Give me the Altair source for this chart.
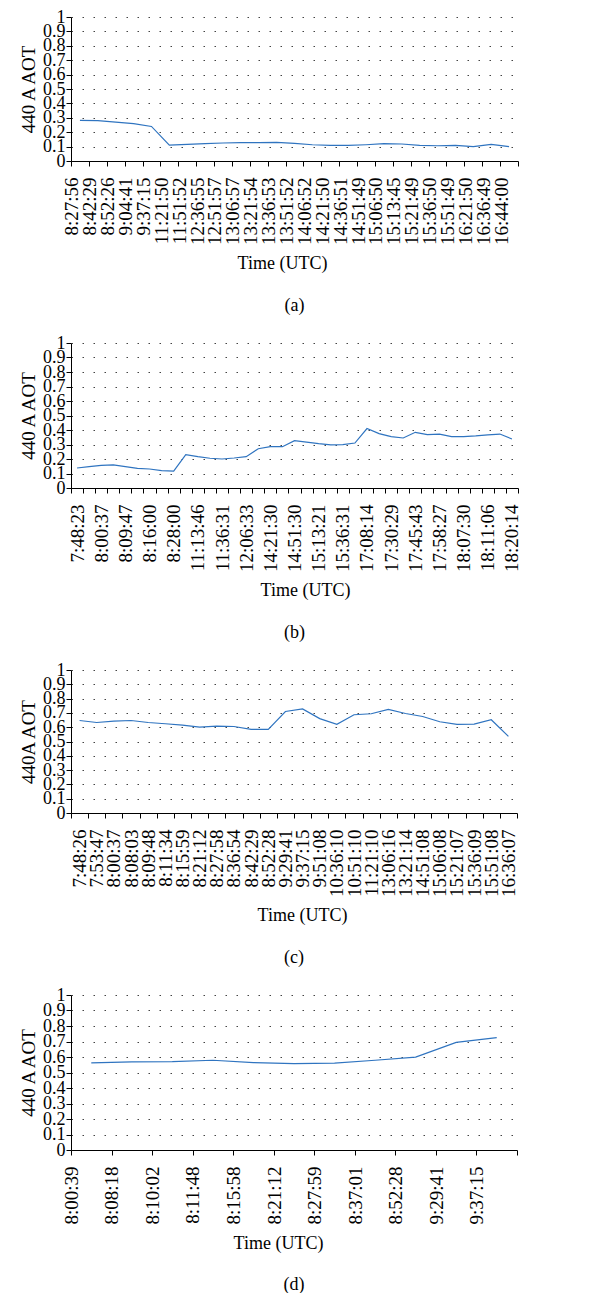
import altair as alt
import pandas as pd

FONT = "Liberation Serif"
LINE_COLOR = "#2f74c0"

# ---------- panel (a) ----------
a_labels = ["8:27:56", "8:42:29", "8:52:26", "9:04:41", "9:37:15", "11:21:50", "11:51:52",
            "12:36:55", "12:51:57", "13:06:57", "13:21:54", "13:36:53", "13:51:52", "14:06:52",
            "14:21:50", "14:36:51", "14:51:49", "15:06:50", "15:13:45", "15:21:49", "15:36:50",
            "15:51:49", "16:21:50", "16:36:49", "16:44:00"]
a_values = [0.282, 0.28, 0.27, 0.26, 0.24, 0.11, 0.115, 0.12, 0.125, 0.127, 0.127, 0.13,
            0.122, 0.113, 0.108, 0.108, 0.113, 0.12, 0.118, 0.108, 0.106, 0.108, 0.10,
            0.115, 0.10]

# ---------- panel (b) ----------
b_labels = ["7:48:23", "8:00:37", "8:09:47", "8:16:00", "8:28:00", "11:13:46", "11:36:31",
            "12:06:33", "14:21:30", "14:51:30", "15:13:21", "15:36:31", "17:08:14", "17:30:29",
            "17:45:43", "17:58:27", "18:07:30", "18:11:06", "18:20:14"]
b_values = [0.138, 0.147, 0.156, 0.159, 0.147, 0.136, 0.131, 0.12, 0.117, 0.23, 0.216,
            0.205, 0.20, 0.207, 0.216, 0.271, 0.285, 0.285, 0.326, 0.317, 0.306, 0.297,
            0.299, 0.31, 0.41, 0.375, 0.354, 0.345, 0.384, 0.368, 0.372, 0.354, 0.354,
            0.359, 0.366, 0.372, 0.338]

# ---------- panel (c) ----------
c_labels = ["7:48:26", "7:53:47", "8:00:37", "8:08:03", "8:09:48", "8:11:34", "8:15:59",
            "8:21:12", "8:27:58", "8:36:54", "8:42:29", "8:52:28", "9:29:41", "9:37:15",
            "9:51:08", "10:36:10", "10:51:10", "11:21:10", "13:06:16", "13:21:14", "14:51:08",
            "15:06:08", "15:21:07", "15:36:09", "15:51:08", "16:36:07"]
c_values = [0.647, 0.633, 0.643, 0.647, 0.633, 0.624, 0.615, 0.60, 0.608, 0.605, 0.585,
            0.585, 0.71, 0.728, 0.66, 0.62, 0.687, 0.694, 0.724, 0.696, 0.675, 0.638,
            0.62, 0.622, 0.652, 0.536]

# ---------- panel (d) ----------
d_labels = ["8:00:39", "8:08:18", "8:10:02", "8:11:48", "8:15:58", "8:21:12", "8:27:59",
            "8:37:01", "8:52:28", "9:29:41", "9:37:15"]
d_values = [0.562, 0.568, 0.57, 0.579, 0.564, 0.557, 0.56, 0.579, 0.599, 0.694, 0.725]

Y_TICKS = [0, 0.1, 0.2, 0.3, 0.4, 0.5, 0.6, 0.7, 0.8, 0.9, 1.0]


def panel(tick_labels, values, ytitle, caption, width, height, label_shift, title_x):
    n = len(values)
    df = pd.DataFrame({"i": list(range(n)), "v": values})
    js = "[" + ",".join("'" + s + "'" for s in tick_labels) + "]"
    x = alt.X(
        "i:O",
        bandPosition=0.5,
        scale=alt.Scale(type="band", paddingInner=0, paddingOuter=0),
        axis=alt.Axis(
            title="Time (UTC)",
            labelExpr=js + "[datum.value] || ''",
            labelAngle=-90,
            labelOverlap=False,
            labelBound=False,
            labelFlush=False,
            labelOffset=label_shift,
            labelPadding=11,
            labelFont=FONT,
            labelFontSize=19,
            labelColor="black",
            tickBand="extent",
            tickSize=5,
            tickColor="black",
            domainColor="black",
            grid=False,
            titleFont=FONT,
            titleFontSize=18,
            titleFontWeight=400,
            titleColor="black",
            titlePadding=10,
            titleX=title_x,
            titleAlign="center",
        ),
    )
    y = alt.Y(
        "v:Q",
        scale=alt.Scale(domain=[0, 1], nice=False, zero=True),
        axis=alt.Axis(
            title=ytitle,
            values=Y_TICKS,
            format=".1~f",
            labelOverlap=False,
            labelFlush=False,
            labelBound=False,
            labelFont=FONT,
            labelFontSize=18,
            labelColor="black",
            labelPadding=1,
            tickSize=5,
            tickColor="black",
            domainColor="black",
            grid=True,
            gridColor="#444444",
            gridDash=[1.5, 9.5],
            gridWidth=1,
            titleFont=FONT,
            titleFontSize=19,
            titleFontWeight=400,
            titleColor="black",
            titlePadding=4,
        ),
    )
    return (
        alt.Chart(df)
        .mark_line(color=LINE_COLOR, strokeWidth=1.2)
        .encode(x=x, y=y)
        .properties(
            width=width,
            height=height,
            title=alt.TitleParams(
                caption,
                orient="bottom",
                anchor="middle",
                font=FONT,
                fontSize=18,
                fontWeight=400,
                color="black",
                offset=24,
            ),
        )
    )


b_full = []
for k in range(len(b_values)):
    b_full.append(b_labels[k // 2] if k % 2 == 0 else "")

pa = panel(a_labels, a_values, "440 A AOT", "(a)", 447, 144, -8, 211)
pb = panel(b_full, b_values, "440 A AOT", "(b)", 447, 145, 0, 234)
pc = panel(c_labels, c_values, "440A AOT", "(c)", 446, 143, 0, 231)
pd_ = panel(d_labels, d_values, "440 A AOT", "(d)", 446, 155, -20, 207)

chart = (
    alt.vconcat(pa, pb, pc, pd_, spacing=19)
    .properties(padding={"left": 11, "top": 0, "right": 5, "bottom": 0})
    .configure_view(stroke=None)
)

chart.save("out.html", embed_options={"renderer": "svg", "actions": False})
